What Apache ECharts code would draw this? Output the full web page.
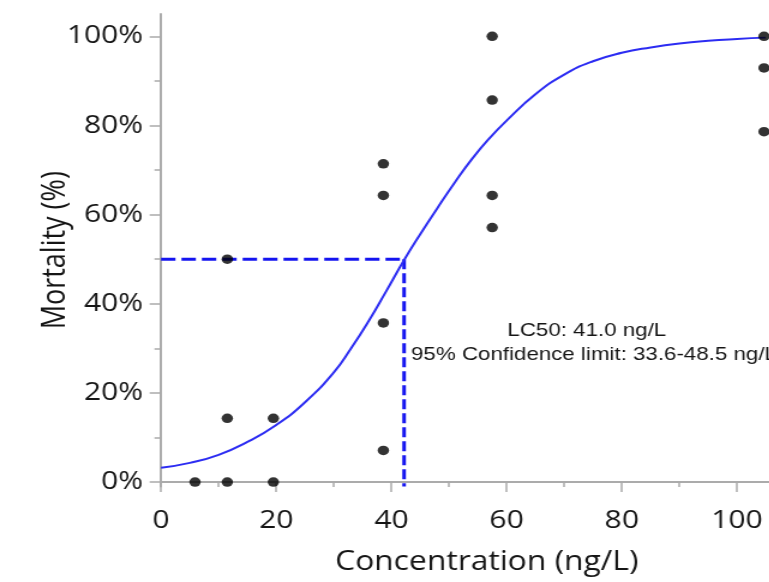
<!DOCTYPE html>
<html>
<head>
<meta charset="utf-8">
<script src="https://cdn.jsdelivr.net/npm/echarts@6/dist/echarts.min.js"></script>
<style>
  html, body { margin: 0; padding: 0; background: #fff; overflow: hidden; }
  /* the source figure is stretched sideways, so stretch ours the same way */
  #chart { width: 641px; height: 582px; transform: scaleX(1.2); transform-origin: 0 0; }
</style>
</head>
<body>
<div id="chart"></div>
<script>
// concentrations tested (ng/L) and observed mortality (%) at each one
const doseLevels = [5.9, 11.5, 19.5, 38.6, 57.5, 104.7];
const observed = [
    [0],
    [50, 14.3, 0],
    [14.3, 0],
    [71.4, 64.3, 35.7, 7.1],
    [100, 85.7, 64.3, 57.1],
    [100, 92.9, 78.6]
];

// fitted dose-response curve
const fitConc = [0, 5, 10, 15, 20, 25, 30, 33, 36, 39, 42.2, 45, 48, 51, 54, 57, 60, 65, 70, 75, 80, 85, 90, 95, 100, 105];
const fitMort = [3.2, 4.3, 6.1, 9.0, 12.8, 17.9, 24.6, 30.0, 36.0, 42.6, 49.8, 55.6, 61.5, 67.2, 72.5, 77.1, 81.1, 87.0, 91.4, 94.4, 96.3, 97.5, 98.4, 99.0, 99.4, 99.7];

// LC50 guide lines
const lc50H = [[0, 50], [42.2, 50]];
const lc50V = [[42.2, 50], [42.2, -1]];

const xTicks = [0, 20, 40, 60, 80, 100];
const xMinor = [10, 30, 50, 70, 90];
const yTicks = [0, 20, 40, 60, 80, 100];
const yMinor = [10, 30, 50, 70, 90];

const lc50Text = 'LC50: 41.0 ng/L';
const ciText = '95% Confidence limit: 33.6-48.5 ng/L';

const points = [];
doseLevels.forEach(function (d, i) {
    observed[i].forEach(function (m) { points.push([d, m]); });
});
const fitData = fitConc.map(function (c, i) { return [c, fitMort[i]]; });

const axisGray = '#ababab';
const textColor = '#151515';
const font = '"Open Sans", "Noto Sans", sans-serif';
const noteFont = '"Liberation Sans", Arial, sans-serif';

const chart = echarts.init(document.getElementById('chart'));

chart.setOption({
    animation: false,
    grid: { left: 134.2, right: 0, top: 14, bottom: 95.5 },
    xAxis: [
        {
            type: 'value', min: 0, max: 105.6,
            splitLine: { show: false },
            axisLine: { lineStyle: { color: axisGray, width: 2 } },
            axisTick: { customValues: xTicks, length: 10, lineStyle: { color: axisGray, width: 1.5 } },
            axisLabel: { customValues: xTicks, margin: 22, color: textColor, fontSize: 25, fontFamily: font },
            name: 'Concentration (ng/L)',
            nameLocation: 'middle',
            nameGap: 62,
            nameMoveOverlap: false,
            nameTextStyle: { color: textColor, fontSize: 26.5, fontFamily: font, padding: [0, 0, 0, 36] }
        },
        {
            type: 'value', min: 0, max: 105.6, position: 'bottom',
            splitLine: { show: false },
            axisLine: { show: false },
            axisTick: { customValues: xMinor, length: 5, lineStyle: { color: axisGray, width: 1.5 } },
            axisLabel: { show: false }
        }
    ],
    yAxis: [
        {
            type: 'value', min: -1, max: 105,
            splitLine: { show: false },
            axisLine: { show: true, lineStyle: { color: axisGray, width: 2 } },
            axisTick: { show: true, customValues: yTicks, length: 9.5, lineStyle: { color: axisGray, width: 1.5 } },
            axisLabel: { customValues: yTicks, formatter: '{value}%', margin: 15, color: textColor, fontSize: 25, fontFamily: font },
            name: 'Mortality (%)',
            nameLocation: 'middle',
            nameGap: 74,
            nameMoveOverlap: false,
            nameTextStyle: { color: textColor, fontSize: 27, fontFamily: font }
        },
        {
            type: 'value', min: -1, max: 105, position: 'left',
            splitLine: { show: false },
            axisLine: { show: false },
            axisTick: { show: true, customValues: yMinor, length: 5.5, lineStyle: { color: axisGray, width: 1.5 } },
            axisLabel: { show: false }
        }
    ],
    graphic: [
        {
            type: 'text', x: 489, y: 331, z: 10,
            style: { text: lc50Text, textAlign: 'center', textVerticalAlign: 'middle', fill: textColor, fontSize: 18.6, fontFamily: noteFont }
        },
        {
            type: 'text', x: 342.5, y: 355, z: 10,
            style: { text: ciText, textAlign: 'left', textVerticalAlign: 'middle', fill: textColor, fontSize: 18.6, fontFamily: noteFont }
        }
    ],
    series: [
        {
            type: 'line', data: lc50H, symbol: 'none', silent: true, z: 2,
            lineStyle: { color: '#1414f0', width: 3, type: [12, 5] }
        },
        {
            type: 'line', data: lc50V, symbol: 'none', silent: true, z: 2,
            lineStyle: { color: '#1414f0', width: 3, type: [10, 4] }
        },
        {
            type: 'line', data: fitData, symbol: 'none', smooth: 0.5, z: 3,
            lineStyle: { color: '#2c2cf2', width: 2 }
        },
        {
            type: 'scatter', data: points, symbol: 'circle', symbolSize: 9.5, z: 4,
            itemStyle: { color: '#000' }
        }
    ]
});
</script>
</body>
</html>
